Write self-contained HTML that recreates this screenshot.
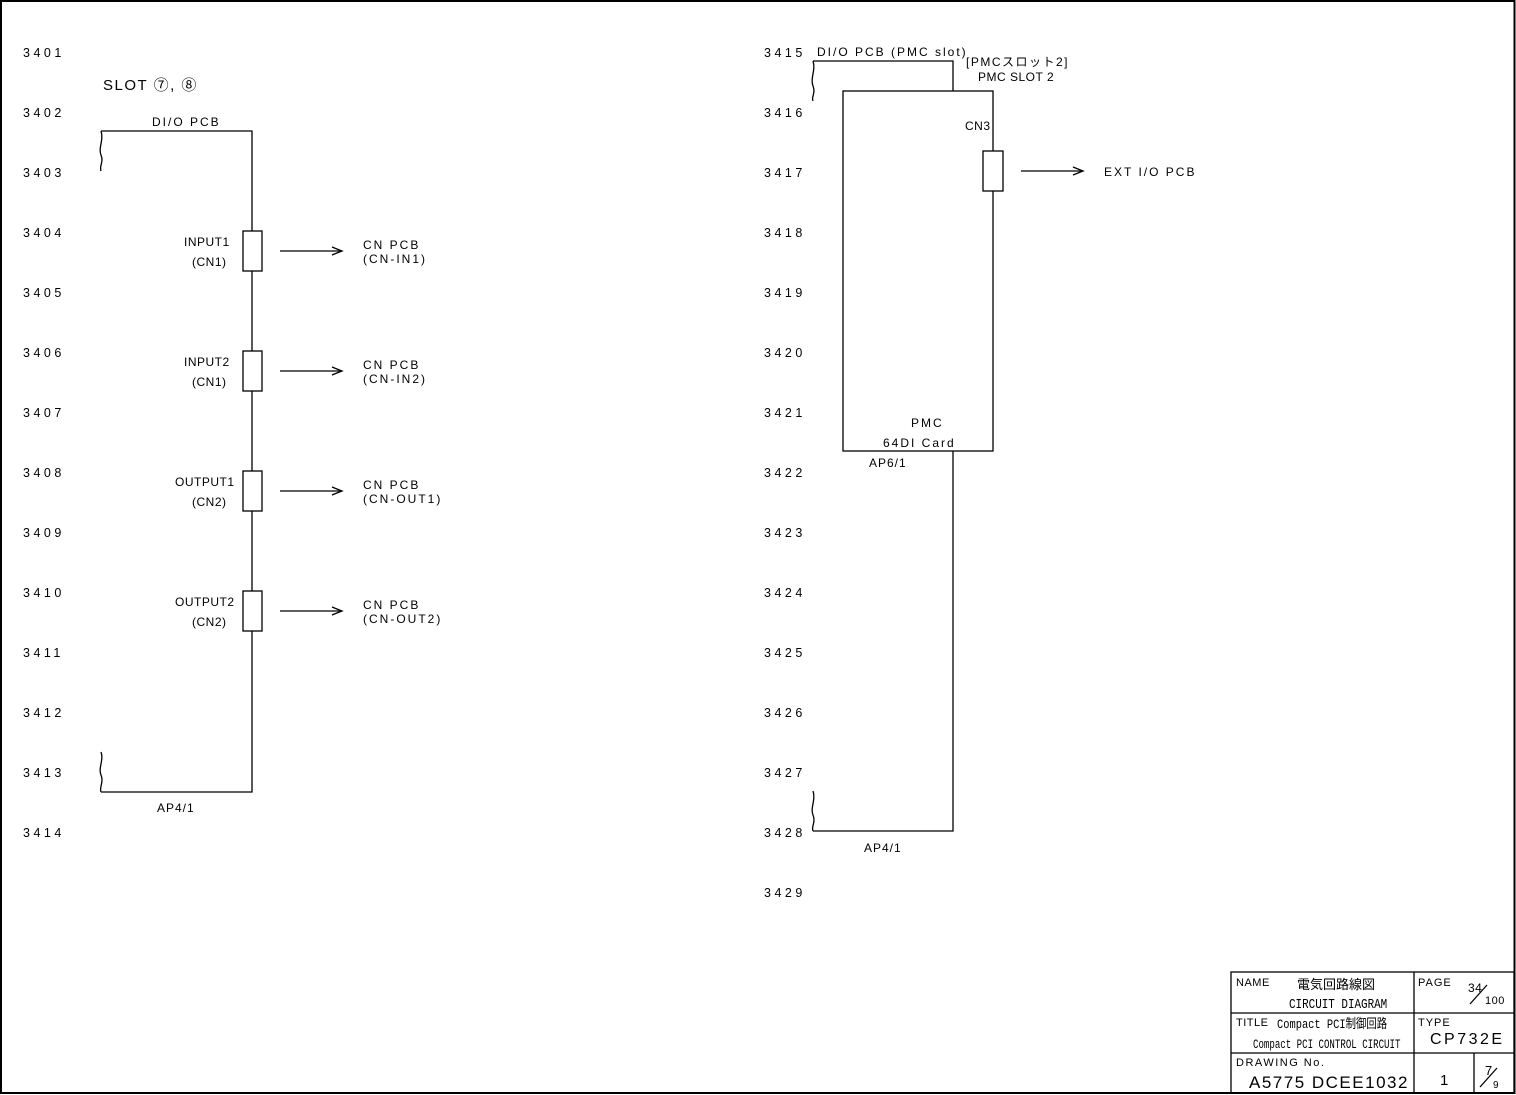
<!DOCTYPE html>
<html><head><meta charset="utf-8"><style>
html,body{margin:0;padding:0;background:#fff;}
svg{display:block;}
text{font-family:"Liberation Sans","Noto Sans CJK JP",sans-serif;font-size:12px;fill:#000;letter-spacing:2px;}
.n{letter-spacing:3.5px;font-size:12.5px;}
.m{font-family:"Liberation Mono","Noto Sans CJK JP",monospace;letter-spacing:0.5px;}
</style></head><body>
<svg width="1516" height="1095" viewBox="0 0 1516 1095" xmlns="http://www.w3.org/2000/svg">
<rect x="1" y="1" width="1513.5" height="1092" fill="none" stroke="#000" stroke-width="2"/>
<g class="n">
<text x="23" y="57" class="n">3401</text>
<text x="23" y="117" class="n">3402</text>
<text x="23" y="177" class="n">3403</text>
<text x="23" y="237" class="n">3404</text>
<text x="23" y="297" class="n">3405</text>
<text x="23" y="357" class="n">3406</text>
<text x="23" y="417" class="n">3407</text>
<text x="23" y="477" class="n">3408</text>
<text x="23" y="537" class="n">3409</text>
<text x="23" y="597" class="n">3410</text>
<text x="23" y="657" class="n">3411</text>
<text x="23" y="717" class="n">3412</text>
<text x="23" y="777" class="n">3413</text>
<text x="23" y="837" class="n">3414</text>
<text x="764" y="57" class="n">3415</text>
<text x="764" y="117" class="n">3416</text>
<text x="764" y="177" class="n">3417</text>
<text x="764" y="237" class="n">3418</text>
<text x="764" y="297" class="n">3419</text>
<text x="764" y="357" class="n">3420</text>
<text x="764" y="417" class="n">3421</text>
<text x="764" y="477" class="n">3422</text>
<text x="764" y="537" class="n">3423</text>
<text x="764" y="597" class="n">3424</text>
<text x="764" y="657" class="n">3425</text>
<text x="764" y="717" class="n">3426</text>
<text x="764" y="777" class="n">3427</text>
<text x="764" y="837" class="n">3428</text>
<text x="764" y="897" class="n">3429</text>
</g>
<g fill="none" stroke="#000" stroke-width="1.3">
<polyline points="101,131 252,131 252,231"/>
<line x1="252" y1="271" x2="252" y2="351"/>
<line x1="252" y1="391" x2="252" y2="471"/>
<line x1="252" y1="511" x2="252" y2="591"/>
<polyline points="252,631 252,792 101,792"/>
<path d="M101,131 C104,140 98,148 101,155 C104,162 99,166 101,171"/>
<path d="M101,752 C104,760 98,768 101,775 C104,782 99,788 101,792"/>
<rect x="243" y="231" width="19" height="40" fill="#fff"/>
<rect x="243" y="351" width="19" height="40" fill="#fff"/>
<rect x="243" y="471" width="19" height="40" fill="#fff"/>
<rect x="243" y="591" width="19" height="40" fill="#fff"/>
<line x1="280" y1="251" x2="342" y2="251"/><polyline points="332,247 342,251 332,255"/>
<line x1="280" y1="371" x2="342" y2="371"/><polyline points="332,367 342,371 332,375"/>
<line x1="280" y1="491" x2="342" y2="491"/><polyline points="332,487 342,491 332,495"/>
<line x1="280" y1="611" x2="342" y2="611"/><polyline points="332,607 342,611 332,615"/>
<polyline points="813,61 953,61 953,91"/>
<path d="M813,61 C816,70 810,78 813,86 C816,93 811,97 813,101"/>
<rect x="843" y="91" width="150" height="360"/>
<rect x="983" y="151" width="20" height="40" fill="#fff"/>
<line x1="1021" y1="171" x2="1083" y2="171"/><polyline points="1073,167 1083,171 1073,175"/>
<polyline points="953,451 953,831 813,831"/>
<path d="M813,791 C816,800 810,808 813,815 C816,822 811,827 813,831"/>
<rect x="1231" y="972" width="283" height="121"/>
<line x1="1414" y1="972" x2="1414" y2="1093"/>
<line x1="1231" y1="1013" x2="1514" y2="1013"/>
<line x1="1231" y1="1053" x2="1514" y2="1053"/>
<line x1="1474" y1="1053" x2="1474" y2="1093"/>
<line x1="1470" y1="1004" x2="1487" y2="985"/>
<line x1="1480" y1="1087" x2="1497" y2="1068"/>
</g>
<text x="103" y="90" style="font-size:15px;letter-spacing:1.5px">SLOT ⑦, ⑧</text>
<text x="152" y="126">DI/O PCB</text>
<text x="184" y="246" style="letter-spacing:0.5px">INPUT1</text>
<text x="192" y="266" style="letter-spacing:0.5px">(CN1)</text>
<text x="184" y="366" style="letter-spacing:0.5px">INPUT2</text>
<text x="192" y="386" style="letter-spacing:0.5px">(CN1)</text>
<text x="175" y="486" style="letter-spacing:0.5px">OUTPUT1</text>
<text x="192" y="506" style="letter-spacing:0.5px">(CN2)</text>
<text x="175" y="606" style="letter-spacing:0.5px">OUTPUT2</text>
<text x="192" y="626" style="letter-spacing:0.5px">(CN2)</text>
<text x="363" y="249">CN PCB</text><text x="363" y="263">(CN-IN1)</text>
<text x="363" y="369">CN PCB</text><text x="363" y="383">(CN-IN2)</text>
<text x="363" y="489">CN PCB</text><text x="363" y="503">(CN-OUT1)</text>
<text x="363" y="609">CN PCB</text><text x="363" y="623">(CN-OUT2)</text>
<text x="157" y="812" style="letter-spacing:1px">AP4/1</text>
<text x="817" y="56">DI/O PCB (PMC slot)</text>
<text x="966" y="66" style="letter-spacing:1.5px">[PMCスロット2]</text>
<text x="978" y="81" style="letter-spacing:0.5px">PMC SLOT 2</text>
<text x="965" y="130" style="letter-spacing:0.5px">CN3</text>
<text x="1104" y="176">EXT I/O PCB</text>
<text x="911" y="427">PMC</text>
<text x="883" y="447">64DI Card</text>
<text x="869" y="467" style="letter-spacing:1px">AP6/1</text>
<text x="864" y="852" style="letter-spacing:1px">AP4/1</text>
<text x="1236" y="986" style="font-size:11px;letter-spacing:0.5px">NAME</text>
<text x="1297" y="989" style="font-size:13px;letter-spacing:0">電気回路線図</text>
<text x="1289" y="1008" class="m" style="font-size:14px;letter-spacing:0;transform:scaleX(0.78);transform-origin:1289px 1008px">CIRCUIT DIAGRAM</text>
<text x="1418" y="986" style="font-size:11px;letter-spacing:1px">PAGE</text>
<text x="1468" y="992" style="font-size:12px;letter-spacing:0.5px">34</text>
<text x="1485" y="1004" style="font-size:11px;letter-spacing:0.5px">100</text>
<text x="1236" y="1026" style="font-size:11px;letter-spacing:0.5px">TITLE</text>
<text x="1277" y="1028" class="m" style="font-size:13px;letter-spacing:0;transform:scaleX(0.8);transform-origin:1277px 1028px">Compact PCI制御回路</text>
<text x="1253" y="1048" class="m" style="font-size:13px;letter-spacing:0;transform:scaleX(0.7);transform-origin:1253px 1048px">Compact PCI CONTROL CIRCUIT</text>
<text x="1418" y="1026" style="font-size:11px;letter-spacing:1px">TYPE</text>
<text x="1430" y="1044" style="font-size:16px;letter-spacing:2.5px">CP732E</text>
<text x="1236" y="1066" style="font-size:11px;letter-spacing:1.5px">DRAWING No.</text>
<text x="1249" y="1088" style="font-size:17px;letter-spacing:1.5px">A5775 DCEE1032</text>
<text x="1440" y="1085" style="font-size:15px">1</text>
<text x="1485" y="1075" style="font-size:13px">7</text>
<text x="1493" y="1088" style="font-size:10px">9</text>
</svg>
</body></html>
